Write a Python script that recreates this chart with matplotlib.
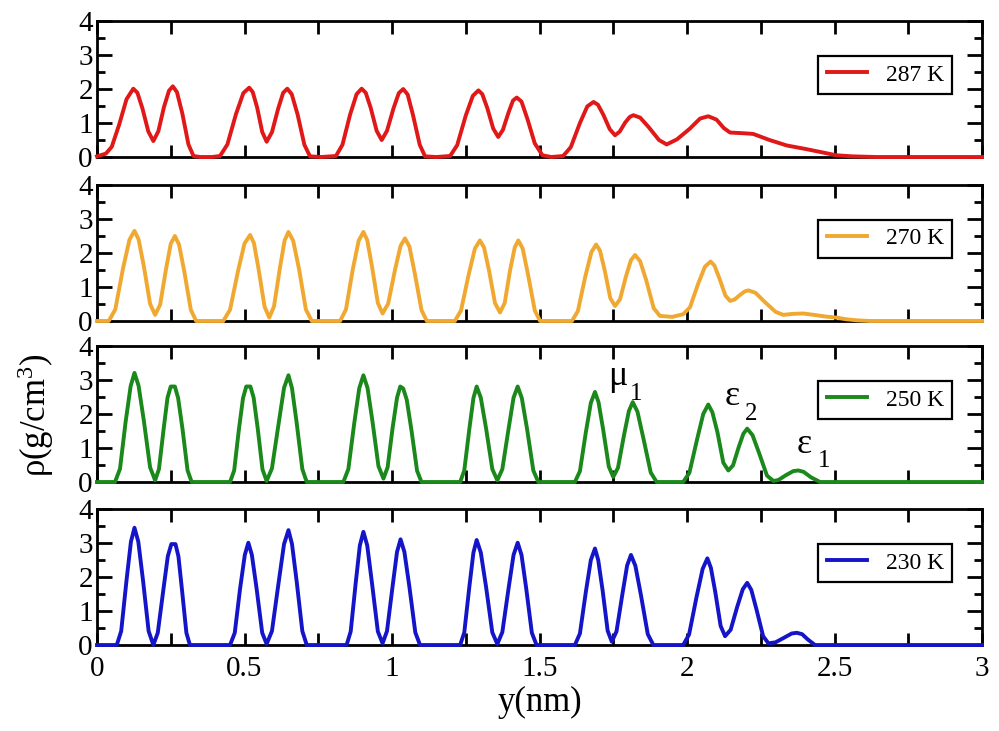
import matplotlib

matplotlib.use("Agg")
import matplotlib.pyplot as plt
from matplotlib.ticker import MultipleLocator

plt.rcParams["font.family"] = ["Liberation Serif", "DejaVu Serif"]
plt.rcParams["mathtext.fontset"] = "custom"
plt.rcParams["mathtext.rm"] = "Liberation Serif"
plt.rcParams["mathtext.it"] = "Liberation Serif:italic"

# density profiles: y (nm) and rho (g/cm^3)
y_287 = [0, 0.03, 0.05, 0.075, 0.1, 0.123,
         0.137, 0.154, 0.174, 0.191, 0.208, 0.227, 0.244, 0.257,
         0.271, 0.289, 0.31, 0.327, 0.35, 0.39, 0.417,
         0.442, 0.471, 0.496, 0.516, 0.528, 0.543, 0.56, 0.575,
         0.593, 0.614, 0.631, 0.645, 0.66, 0.68, 0.703, 0.722, 0.76, 0.81,
         0.832, 0.858, 0.88, 0.897, 0.911, 0.928, 0.948, 0.965,
         0.983, 1.005, 1.023, 1.038, 1.053, 1.071, 1.094, 1.112, 1.15, 1.197,
         1.221, 1.25, 1.274, 1.293, 1.306, 1.323, 1.343, 1.36,
         1.376, 1.395, 1.41, 1.423, 1.439, 1.459, 1.484, 1.51, 1.54, 1.58,
         1.606, 1.637, 1.662, 1.683, 1.698, 1.716, 1.738, 1.756,
         1.772, 1.79, 1.806, 1.818, 1.841, 1.87, 1.905, 1.931,
         1.966, 2.009, 2.044, 2.072, 2.1, 2.125, 2.146, 2.19, 2.224,
         2.28, 2.338, 2.4, 2.451, 2.507, 2.56, 2.64, 3.0]
rho_287 = [0.02, 0.1, 0.3, 0.95, 1.7, 2.01,
           1.89, 1.43, 0.75, 0.47, 0.76, 1.47, 1.95, 2.08,
           1.91, 1.29, 0.37, 0.03, 0, 0, 0.03,
           0.37, 1.26, 1.88, 2.04, 1.91, 1.45, 0.74, 0.45,
           0.73, 1.42, 1.89, 2.01, 1.85, 1.25, 0.36, 0.02, 0, 0.03,
           0.36, 1.25, 1.85, 2.01, 1.89, 1.44, 0.77, 0.5,
           0.77, 1.43, 1.88, 2.0, 1.84, 1.24, 0.36, 0.02, 0, 0.03,
           0.35, 1.22, 1.8, 1.96, 1.85, 1.44, 0.84, 0.59,
           0.8, 1.31, 1.66, 1.75, 1.63, 1.12, 0.4, 0.05, 0, 0.03,
           0.29, 1.0, 1.49, 1.62, 1.54, 1.25, 0.82, 0.64,
           0.75, 1.01, 1.18, 1.23, 1.16, 0.88, 0.5, 0.37,
           0.52, 0.83, 1.13, 1.2, 1.1, 0.85, 0.72, 0.7, 0.68,
           0.5, 0.34, 0.24, 0.15, 0.05, 0.02, 0, 0]

y_270 = [0, 0.04, 0.062, 0.088, 0.11, 0.127,
         0.141, 0.159, 0.18, 0.197, 0.214, 0.234, 0.25, 0.264,
         0.278, 0.296, 0.318, 0.336, 0.428,
         0.451, 0.478, 0.5, 0.519, 0.532, 0.548, 0.568, 0.584,
         0.6, 0.62, 0.636, 0.649, 0.665, 0.685, 0.708, 0.728, 0.824,
         0.844, 0.867, 0.887, 0.903, 0.916, 0.932, 0.952, 0.968,
         0.987, 1.01, 1.029, 1.044, 1.059, 1.077, 1.1, 1.118, 1.213,
         1.234, 1.26, 1.281, 1.298, 1.312, 1.329, 1.349, 1.366,
         1.382, 1.4, 1.416, 1.428, 1.443, 1.461, 1.484, 1.502, 1.61,
         1.63, 1.655, 1.676, 1.692, 1.705, 1.721, 1.74, 1.756,
         1.773, 1.793, 1.81, 1.824, 1.841, 1.862, 1.887, 1.908, 1.95, 1.987,
         2.01, 2.038, 2.061, 2.08, 2.093, 2.11, 2.13, 2.146,
         2.161, 2.18, 2.196, 2.208, 2.232, 2.261, 2.3, 2.326,
         2.36, 2.394, 2.43, 2.47, 2.507, 2.54, 2.575, 2.62, 3.0]
rho_270 = [0, 0, 0.34, 1.54, 2.39, 2.65,
           2.4, 1.6, 0.5, 0.18, 0.48, 1.53, 2.27, 2.5,
           2.25, 1.45, 0.33, 0, 0,
           0.33, 1.47, 2.28, 2.53, 2.29, 1.51, 0.42, 0.1,
           0.43, 1.56, 2.37, 2.62, 2.36, 1.52, 0.34, 0, 0,
           0.34, 1.52, 2.36, 2.62, 2.38, 1.61, 0.53, 0.22,
           0.51, 1.5, 2.21, 2.43, 2.19, 1.41, 0.32, 0, 0,
           0.31, 1.37, 2.13, 2.37, 2.16, 1.48, 0.53, 0.25,
           0.53, 1.48, 2.16, 2.37, 2.13, 1.37, 0.31, 0, 0,
           0.29, 1.3, 2.03, 2.25, 2.07, 1.49, 0.67, 0.44,
           0.64, 1.31, 1.79, 1.94, 1.76, 1.19, 0.38, 0.15, 0.12, 0.2,
           0.4, 1.1, 1.6, 1.75, 1.63, 1.25, 0.75, 0.59,
           0.63, 0.77, 0.87, 0.9, 0.83, 0.58, 0.27, 0.18,
           0.21, 0.22, 0.18, 0.13, 0.1, 0.05, 0.02, 0, 0]

y_250 = [0, 0.061, 0.078, 0.097, 0.114, 0.127,
         0.141, 0.159, 0.18, 0.197, 0.21, 0.226, 0.239, 0.25, 0.264,
         0.275, 0.29, 0.307, 0.321, 0.451,
         0.465, 0.481, 0.495, 0.506, 0.52, 0.531, 0.545, 0.561, 0.575,
         0.593, 0.616, 0.634, 0.649, 0.661, 0.677, 0.696, 0.711, 0.835,
         0.852, 0.872, 0.889, 0.903, 0.917, 0.934, 0.954, 0.971,
         0.985, 1.002, 1.017, 1.028, 1.038, 1.05, 1.066, 1.085, 1.1, 1.231,
         1.245, 1.262, 1.276, 1.287, 1.301, 1.319, 1.34, 1.357,
         1.374, 1.395, 1.412, 1.426, 1.44, 1.458, 1.479, 1.496, 1.62,
         1.637, 1.657, 1.674, 1.688, 1.7, 1.716, 1.735, 1.75,
         1.766, 1.786, 1.803, 1.816, 1.832, 1.852, 1.877, 1.897, 1.987,
         2.008, 2.034, 2.055, 2.072, 2.086, 2.103, 2.123, 2.14,
         2.156, 2.175, 2.191, 2.204, 2.222, 2.244, 2.271, 2.293,
         2.31, 2.335, 2.36, 2.377, 2.395, 2.42, 2.451, 3.0]
rho_250 = [0, 0, 0.39, 1.77, 2.82, 3.21,
           2.83, 1.79, 0.43, 0.05, 0.38, 1.57, 2.48, 2.81, 2.81,
           2.47, 1.55, 0.34, 0, 0,
           0.34, 1.55, 2.47, 2.81, 2.81, 2.48, 1.56, 0.37, 0.03,
           0.4, 1.74, 2.77, 3.14, 2.76, 1.73, 0.38, 0, 0,
           0.38, 1.73, 2.76, 3.14, 2.77, 1.77, 0.47, 0.1,
           0.43, 1.59, 2.48, 2.81, 2.75, 2.42, 1.52, 0.33, 0, 0,
           0.34, 1.55, 2.47, 2.81, 2.48, 1.57, 0.38, 0.05,
           0.38, 1.56, 2.48, 2.81, 2.47, 1.55, 0.34, 0, 0,
           0.32, 1.46, 2.33, 2.65, 2.35, 1.53, 0.45, 0.15,
           0.42, 1.36, 2.09, 2.35, 2.07, 1.29, 0.28, 0, 0,
           0.27, 1.25, 2.0, 2.28, 2.05, 1.47, 0.57, 0.34,
           0.49, 1.02, 1.42, 1.57, 1.38, 0.86, 0.19, 0.03,
           0.06, 0.2, 0.32, 0.34, 0.3, 0.14, 0, 0]

y_230 = [0, 0.067, 0.082, 0.1, 0.115, 0.127,
         0.14, 0.156, 0.175, 0.191, 0.206, 0.225, 0.24, 0.252, 0.266,
         0.276, 0.288, 0.303, 0.315, 0.451,
         0.467, 0.485, 0.501, 0.513, 0.525, 0.541, 0.56, 0.575,
         0.593, 0.616, 0.634, 0.649, 0.661, 0.677, 0.696, 0.711, 0.846,
         0.86, 0.877, 0.891, 0.903, 0.916, 0.932, 0.952, 0.968,
         0.983, 1.002, 1.017, 1.029, 1.042, 1.059, 1.079, 1.095, 1.231,
         1.245, 1.262, 1.276, 1.287, 1.301, 1.319, 1.34, 1.357,
         1.374, 1.395, 1.412, 1.426, 1.439, 1.455, 1.474, 1.49, 1.62,
         1.637, 1.657, 1.674, 1.688, 1.699, 1.714, 1.731, 1.745,
         1.761, 1.781, 1.797, 1.81, 1.825, 1.844, 1.867, 1.886, 1.987,
         2.007, 2.032, 2.053, 2.069, 2.081, 2.096, 2.114, 2.129,
         2.148, 2.17, 2.189, 2.204, 2.218, 2.236, 2.258, 2.276,
         2.3, 2.33, 2.355, 2.372, 2.39, 2.41, 2.434, 3.0]
rho_230 = [0, 0, 0.41, 1.9, 3.04, 3.45,
           3.04, 1.9, 0.41, 0, 0.36, 1.63, 2.61, 2.97, 2.97,
           2.61, 1.63, 0.36, 0, 0,
           0.36, 1.66, 2.65, 3.01, 2.65, 1.66, 0.36, 0.03,
           0.41, 1.86, 2.97, 3.38, 2.97, 1.86, 0.41, 0, 0,
           0.4, 1.83, 2.93, 3.33, 2.93, 1.83, 0.4, 0.05,
           0.41, 1.73, 2.74, 3.11, 2.74, 1.71, 0.37, 0, 0,
           0.37, 1.7, 2.72, 3.09, 2.72, 1.7, 0.37, 0.03,
           0.38, 1.66, 2.65, 3.01, 2.65, 1.66, 0.36, 0, 0,
           0.34, 1.56, 2.5, 2.84, 2.5, 1.6, 0.42, 0.1,
           0.4, 1.5, 2.34, 2.65, 2.33, 1.46, 0.32, 0, 0,
           0.31, 1.4, 2.24, 2.55, 2.27, 1.55, 0.56, 0.26,
           0.45, 1.12, 1.64, 1.83, 1.62, 1.03, 0.26, 0.05,
           0.08, 0.22, 0.34, 0.36, 0.32, 0.16, 0, 0]

labels = ["287 K", "270 K", "250 K", "230 K"]
colors = ["#e01818", "#f0a830", "#1a881a", "#1414c8"]
series = [(y_287, rho_287), (y_270, rho_270), (y_250, rho_250), (y_230, rho_230)]

fig = plt.figure(figsize=(9.99, 7.31), dpi=100)
# panel rectangles in figure fractions, top to bottom
bottoms = [0.7852, 0.5609, 0.3406, 0.1176]
height = 0.186
axes = []
for i, (lab, col, (xs, ys)) in enumerate(zip(labels, colors, series)):
    ax = fig.add_axes([0.0971, bottoms[i], 0.8859, height])
    ax.plot(xs, ys, color=col, lw=2.8, label=lab, clip_on=False, zorder=3,
            solid_joinstyle="round")
    ax.set_xlim(0, 3)
    ax.set_ylim(0, 4)
    ax.xaxis.set_major_locator(MultipleLocator(0.5))
    ax.xaxis.set_minor_locator(MultipleLocator(0.25))
    ax.yaxis.set_major_locator(MultipleLocator(1))
    ax.yaxis.set_minor_locator(MultipleLocator(0.5))
    ax.tick_params(which="both", direction="in", top=True, right=True,
                   width=2, labelsize=21)
    ax.tick_params(axis="x", which="both", length=9, pad=8)
    ax.tick_params(axis="y", which="major", length=11, pad=3)
    ax.tick_params(axis="y", which="minor", length=6)
    ax.set_yticks([0, 1, 2, 3, 4])
    ax.set_yticklabels(["0", "1", "2", "3", "4"])
    for s in ax.spines.values():
        s.set_linewidth(2)
    if i < 3:
        ax.tick_params(axis="x", labelbottom=False)
    else:
        ax.set_xticks([0, 0.5, 1, 1.5, 2, 2.5, 3])
        ax.set_xticklabels(["0", "0.5", "1", "1.5", "2", "2.5", "3"])
        ax.set_xlabel("y(nm)", fontsize=25, labelpad=3)
    leg = ax.legend(loc="upper left", bbox_to_anchor=(0.815, 0.745),
                    borderaxespad=0, fancybox=False, framealpha=1,
                    edgecolor="black", fontsize=17, handlelength=1.7,
                    handletextpad=0.8, borderpad=0.35)
    leg.get_frame().set_linewidth(1.6)
    axes.append(ax)

# peak labels in the 250 K panel
ax3 = axes[2]
ax3.text(1.732, 2.85, "μ", fontsize=26)
ax3.text(1.805, 2.41, "1", fontsize=18)
ax3.text(2.129, 2.26, "ε", fontsize=26)
ax3.text(2.195, 1.82, "2", fontsize=18)
ax3.text(2.373, 0.85, "ε", fontsize=26)
ax3.text(2.442, 0.44, "1", fontsize=18)

fig.text(0.036, 0.432, "ρ(g/cm$^{3}$)", rotation=90, fontsize=25,
         ha="center", va="center")

fig.savefig("out.png", dpi=100)
